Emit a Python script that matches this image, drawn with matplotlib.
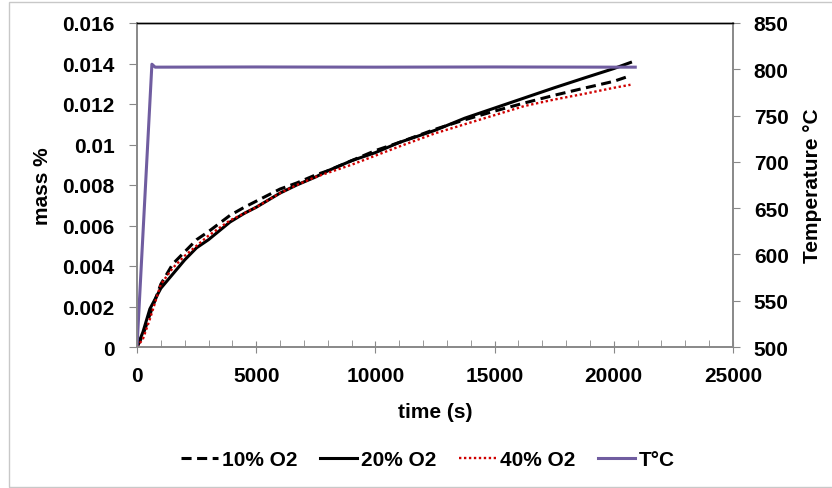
import numpy as np
import matplotlib.pyplot as plt
from matplotlib.patches import Rectangle

# mass gain curves
t_mass = [0, 250, 540, 1000, 1500, 2000, 2500, 3000, 3900, 4500, 5000, 6000, 6700,
          7500, 8000, 9000, 10000, 11000, 12500, 13750, 15000, 16250, 17500, 18750,
          20000, 20700]
o2_10 = [0, 0.0006, 0.0016, 0.0031, 0.0041, 0.0047, 0.0053, 0.0057, 0.0065, 0.0069,
         0.0072, 0.0078, 0.0081, 0.0085, 0.0087, 0.0092, 0.0097, 0.0101, 0.01075, 0.01122,
         0.01165, 0.01205, 0.01243, 0.01278, 0.01312, 0.0134]
o2_20 = [0, 0.00074, 0.00188, 0.0029, 0.0036, 0.0043, 0.0049, 0.0053, 0.00617, 0.0066,
         0.0069, 0.0076, 0.0080, 0.0084, 0.0087, 0.0092, 0.0096, 0.0101, 0.0107, 0.0113,
         0.0118, 0.0123, 0.0128, 0.01328, 0.01375, 0.01405]
o2_40 = [0, 0.0004, 0.00138, 0.0031, 0.0039, 0.0045, 0.0050, 0.0055, 0.00625, 0.0066,
         0.0069, 0.0076, 0.0080, 0.0084, 0.0086, 0.0090, 0.00945, 0.0099, 0.01055, 0.0110,
         0.01145, 0.0119, 0.01222, 0.0125, 0.0128, 0.01295]

# furnace temperature
t_temp = [0, 625, 760, 5000, 10000, 15000, 20000, 20900]
temp = [500, 805.5, 802.3, 802.5, 802.3, 802.5, 802.3, 802.3]

plt.rcParams['font.family'] = ['Liberation Sans', 'DejaVu Sans']
plt.rcParams['font.weight'] = 'bold'
fs = 15

fig = plt.figure(figsize=(8.32, 4.89), dpi=100)
ax = fig.add_axes([137/832, 1-348/489, (733-137)/832, (348-24)/489])
ax2 = ax.twinx()

ax.plot(t_mass, o2_10, color='black', lw=2.2, ls=(0, (3.3, 1.8)), label='10% O2')
ax.plot(t_mass, o2_20, color='black', lw=2.2, ls='-', label='20% O2')
ax.plot(t_mass, o2_40, color='#d00000', lw=1.7, ls=(0, (1, 1.1)), label='40% O2')
ax2.plot(t_temp, temp, color='#705DA0', lw=2.2, label='T°C')

ax.set_xlim(0, 25000)
ax.set_ylim(0, 0.016)
ax2.set_ylim(500, 850)
ax.set_xticks(np.arange(0, 25001, 5000))
ax.set_xticks(np.arange(0, 25001, 1000), minor=True)
ax.set_yticks(np.arange(0, 0.0161, 0.002))
ax.set_yticklabels(['0', '0.002', '0.004', '0.006', '0.008', '0.01', '0.012', '0.014', '0.016'])
ax2.set_yticks(np.arange(500, 851, 50))

gray = '#888888'
for a in (ax, ax2):
    for s in ['left', 'right', 'bottom']:
        a.spines[s].set_color(gray)
        a.spines[s].set_linewidth(1.2)
    a.spines['top'].set_color('black')
    a.spines['top'].set_linewidth(1.0)
ax.tick_params(axis='x', which='major', direction='inout', length=9, color=gray,
               labelsize=fs, pad=9)
ax.tick_params(axis='x', which='minor', direction='in', length=5, color=gray)
ax.tick_params(axis='y', direction='out', length=6, color=gray, labelsize=fs, pad=10)
ax2.tick_params(axis='y', direction='out', length=5, color=gray, labelsize=fs, pad=10)

ax.set_xlabel('time (s)', fontsize=fs, fontweight='bold')
ax.set_ylabel('mass %', fontsize=fs, fontweight='bold')
ax2.set_ylabel('Temperature °C', fontsize=fs, fontweight='bold')
ax.xaxis.set_label_coords(0.5, -0.2006)
ax.yaxis.set_label_coords(-0.159, 0.5)
ax2.yaxis.set_label_coords(1.1326, 0.5)
ax.xaxis.label.set_va('center')
ax.yaxis.label.set_va('center')
ax2.yaxis.label.set_va('center')

h1, l1 = ax.get_legend_handles_labels()
h2, l2 = ax2.get_legend_handles_labels()
fig.legend(h1 + h2, l1 + l2, loc='center', bbox_to_anchor=(428/832, 1-461/489),
           ncol=4, frameon=False, fontsize=fs, handlelength=1.75,
           handletextpad=0.2, columnspacing=1.1)

fig.patches.append(Rectangle((9/832, 1/489), 1.0, 1-4/489, transform=fig.transFigure,
                             fill=False, edgecolor='#c8c8c8', lw=1.0))

fig.savefig('out.png', dpi=100)
